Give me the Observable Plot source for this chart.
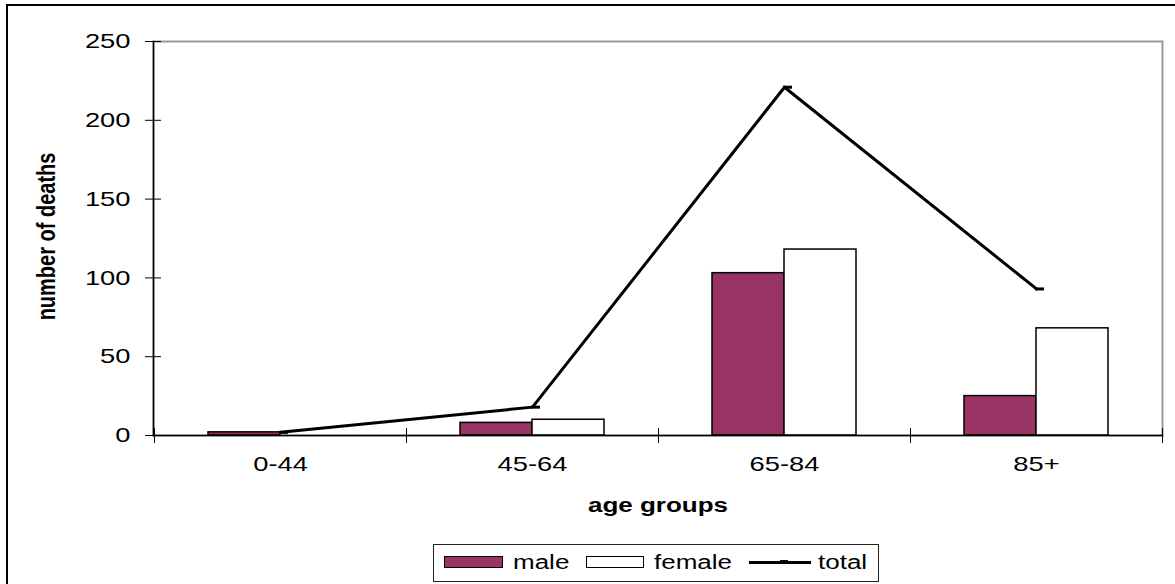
<!DOCTYPE html>
<html>
<head>
<meta charset="utf-8">
<script src="https://cdn.jsdelivr.net/npm/d3@7"></script>
<script src="https://cdn.jsdelivr.net/npm/@observablehq/plot@0.6"></script>
<style>
  body { margin: 0; background: #fff; }
  #wrap { position: relative; width: 1175px; height: 584px; overflow: hidden; font-family: "Liberation Sans", Arial, sans-serif; background: #fff; }
  #outer { position: absolute; left: 6px; top: 4px; width: 1300px; height: 700px; border-left: 2px solid #000; border-top: 2px solid #000; pointer-events: none; }
  #chart { position: absolute; left: 0; top: 0; }
  #legend { position: absolute; left: 433px; top: 544px; width: 446px; height: 38px; border: 1.5px solid #222; box-sizing: border-box; background: #fff; }
  .lg-sw { position: absolute; top: 11px; height: 12px; border: 1.5px solid #000; box-sizing: border-box; }
  .lg-tx { position: absolute; top: 6px; font-size: 20px; line-height: 22px; color: #000; transform: scaleX(1.3); transform-origin: left center; white-space: nowrap; }
  .lg-ln { position: absolute; top: 16px; height: 3px; background: #000; }
  .lg-mk { position: absolute; top: 15px; width: 8px; height: 2px; background: #000; }
</style>
</head>
<body>
<div id="wrap">
  <div id="chart"></div>
  <div id="outer"></div>
  <div id="legend"></div>
</div>
<script>
// ---- data ----
const ageGroups = ["0-44", "45-64", "65-84", "85+"];
const male = [2, 8, 103, 25];
const female = [0, 10, 118, 68];
const total = [2, 18, 221, 93];
const yTicks = [0, 50, 100, 150, 200, 250];
const seriesNames = ["male", "female", "total"];
const xTitle = "age groups";
const yTitle = "number of deaths";

const rows = ageGroups.map((g, i) => ({group: g, male: male[i], female: female[i], total: total[i]}));

const plum = "#993366";

const chart = Plot.plot({
  width: 1175,
  height: 584,
  marginLeft: 153,
  marginRight: 13,
  marginTop: 41,
  marginBottom: 149,
  style: {fontFamily: "'Liberation Sans', Arial, sans-serif", color: "#000", background: "transparent"},
  x: {type: "band", domain: ageGroups, padding: 0},
  y: {domain: [0, 250]},
  marks: [
    Plot.frame({stroke: "#999", strokeWidth: 2}),
    Plot.barY(rows, {x: "group", y: "male", fill: plum, stroke: "#000", strokeWidth: 1.5, insetLeft: 54, insetRight: 126}),
    Plot.barY(rows, {x: "group", y: "female", fill: "#fff", stroke: "#000", strokeWidth: 1.5, insetLeft: 126, insetRight: 54}),
    Plot.frame({anchor: "left", stroke: "#000", strokeWidth: 1.5}),
    Plot.frame({anchor: "bottom", stroke: "#000", strokeWidth: 1.5}),
    Plot.line(rows, {x: "group", y: "total", stroke: "#000", strokeWidth: 3}),
    Plot.tickY(rows, {x: "group", y: "total", stroke: "#000", strokeWidth: 3, insetLeft: 125, insetRight: 118}),
    Plot.axisY({ticks: yTicks, tickSize: 16, dx: 8, tickFormat: () => "", label: null, stroke: "#000", strokeWidth: 1}),
    Plot.axisY({ticks: yTicks, tickSize: 0, tickPadding: 23, fontSize: 21, label: null}),
    Plot.axisX({tickSize: 15, dx: -126, dy: -7, tickFormat: () => "", label: null, strokeWidth: 1}),
    Plot.axisX({ticks: [ageGroups[ageGroups.length - 1]], tickSize: 15, dx: 126, dy: -7, tickFormat: () => "", label: null, strokeWidth: 1}),
    Plot.axisX({tickSize: 0, tickPadding: 21, fontSize: 21, label: null}),
    Plot.text([xTitle], {frameAnchor: "bottom", dy: 76, fontSize: 20, fontWeight: "bold", fill: "#000"}),
    Plot.text([yTitle], {frameAnchor: "left", textAnchor: "middle", dx: -107, dy: -2, rotate: -90, fontSize: 20, fontWeight: "bold", fill: "#000"})
  ]
});
document.getElementById("chart").appendChild(chart);

// emulate horizontally stretched Excel-style text
chart.querySelectorAll("text").forEach(t => {
  const s = (t.textContent || "").trim();
  if (!s) return;
  const tr = t.getAttribute("transform") || "";
  if (tr.includes("rotate")) {
    t.setAttribute("transform", tr + " scale(1,1.3)");
  } else {
    const L = t.getComputedTextLength();
    t.setAttribute("textLength", (L * 1.3).toFixed(1));
    t.setAttribute("lengthAdjust", "spacingAndGlyphs");
  }
});

// legend
const lg = document.getElementById("legend");
const legendItems = [
  {name: seriesNames[0], kind: "box", fill: plum, sw: 10, swW: 59, tx: 79},
  {name: seriesNames[1], kind: "box", fill: "#fff", sw: 152, swW: 58, tx: 220},
  {name: seriesNames[2], kind: "line", sw: 315, swW: 62, tx: 384}
];
legendItems.forEach(it => {
  const d = document.createElement("div");
  if (it.kind === "box") {
    d.className = "lg-sw";
    d.style.background = it.fill;
  } else {
    d.className = "lg-ln";
    const m = document.createElement("div");
    m.className = "lg-mk";
    m.style.left = (it.sw + it.swW / 2) + "px";
    lg.appendChild(m);
  }
  d.style.left = it.sw + "px";
  d.style.width = it.swW + "px";
  lg.appendChild(d);
  const t = document.createElement("div");
  t.className = "lg-tx";
  t.style.left = it.tx + "px";
  t.textContent = it.name;
  lg.appendChild(t);
});
</script>
</body>
</html>
